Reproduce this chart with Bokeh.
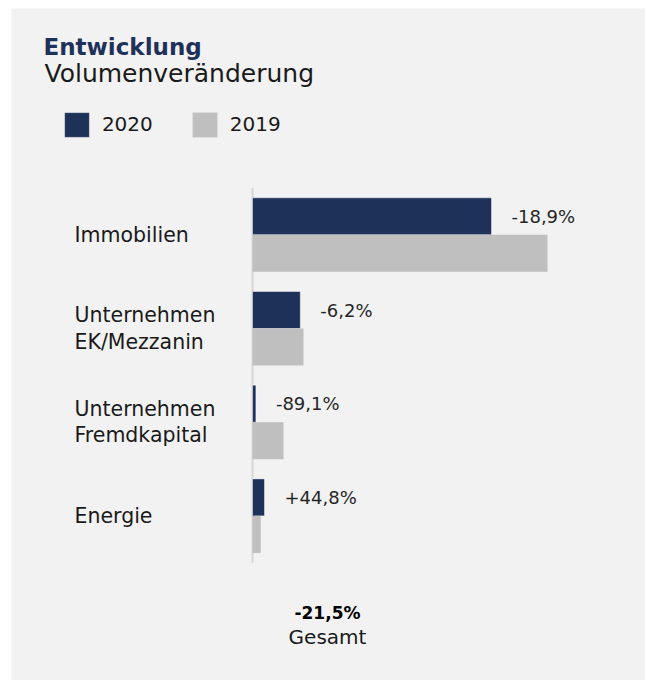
from bokeh.plotting import figure
from bokeh.models import (ColumnDataSource, Range1d, Label, Legend, LegendItem)
from bokeh.core.properties import value
from bokeh.embed import file_html
from bokeh.resources import INLINE

# ---------------- data ----------------
categories = ["Immobilien", "Unternehmen\nEK/Mezzanin", "Unternehmen\nFremdkapital", "Energie"]
vol_2019 = [295, 51, 31, 8.3]
vol_2020 = [239, 47.8, 3.4, 12.0]
change_labels = ["-18,9%", "-6,2%", "-89,1%", "+44,8%"]
series_names = ["2020", "2019"]
total_label = "-21,5%"
total_caption = "Gesamt"
title_text = "Entwicklung"
subtitle_text = "Volumenveränderung"

# ---------------- layout constants ----------------
W, H = 645, 680
LEFT, TOP = 11, 8
FW, FH = W - LEFT, H - TOP      # frame (grey panel) size
NAVY = "#1e3159"
GREY = "#bfbfbf"
BG = "#f2f2f2"
TXT = "#1a1a1a"
FONT = "DejaVu Sans"
LABEL_SHIFT = 8          # baseline correction for screen-positioned labels

axis_px = 241            # x of the value axis inside the panel
group_px = 93.7          # vertical distance between category groups
first_center_px = 226.3  # panel y of first group centre
bar_h = 37 / group_px
half = bar_h / 2

x_range = Range1d(-axis_px, FW - axis_px)
top_val = -first_center_px / group_px
bottom_val = (FH - first_center_px) / group_px
y_range = Range1d(start=bottom_val, end=top_val)

p = figure(width=W, height=H, x_range=x_range, y_range=y_range,
           output_backend="svg", toolbar_location=None,
           x_axis_type=None, y_axis_type=None,
           min_border_left=LEFT, min_border_top=TOP,
           min_border_right=0, min_border_bottom=0,
           background_fill_color=BG, border_fill_color="#ffffff",
           outline_line_color=None)
p.grid.visible = False


def sx(page_x):
    return page_x - LEFT


def sy(page_y):
    return H - page_y


def sy_text(page_y):
    return H - page_y + LABEL_SHIFT


idx = list(range(len(categories)))
src = ColumnDataSource(dict(
    cat=categories,
    idx=idx,
    y20=[i - half for i in idx],
    y19=[i + half for i in idx],
    v20=vol_2020,
    v19=vol_2019,
    lab=change_labels,
    zero=[0] * len(idx),
))

# axis line
p.segment(x0=0, y0=-0.5, x1=0, y1=len(categories) - 0.5,
          line_color="#d6d6d6", line_width=2)

r20 = p.hbar(y="y20", left="zero", right="v20", height=bar_h, source=src,
             fill_color=NAVY, line_color="#ffffff", line_alpha=0.45, line_width=1)
r19 = p.hbar(y="y19", left="zero", right="v19", height=bar_h, source=src,
             fill_color=GREY, line_color=None)

# value labels
p.text(x="v20", y="y20", text="lab", source=src, x_offset=20,
       text_baseline="middle", text_align="left",
       text_font=value(FONT), text_font_size="18px", text_color="#262626")

# category labels
p.text(x="zero", y="idx", text="cat", source=src, x_offset=-178,
       text_baseline="middle", text_align="left", text_line_height=1.1,
       text_font=value(FONT), text_font_size="20.5px", text_color=TXT)

# title / subtitle
p.add_layout(Label(x=sx(43), y=sy_text(54.5), x_units="screen", y_units="screen",
                   text=title_text, text_font=FONT, text_font_size="23px",
                   text_font_style="bold", text_color=NAVY,
                   text_baseline="alphabetic"))
p.add_layout(Label(x=sx(44), y=sy_text(81), x_units="screen", y_units="screen",
                   text=subtitle_text, text_font=FONT, text_font_size="25px",
                   text_color=TXT, text_baseline="alphabetic"))

# legend (area glyphs are inset by 10% of the glyph box)
gbox = 25 / 0.8
inset = gbox * 0.1
legend = Legend(items=[LegendItem(label=series_names[0], renderers=[r20]),
                       LegendItem(label=series_names[1], renderers=[r19])],
                location=(sx(64 - inset), sy(136.7 + inset)),
                orientation="horizontal",
                glyph_width=round(gbox), glyph_height=round(gbox),
                label_standoff=10, spacing=36, padding=0, margin=0,
                border_line_color=None, background_fill_alpha=0,
                label_text_font=FONT, label_text_font_size="20px",
                label_text_color=TXT)
p.add_layout(legend)

# total
p.add_layout(Label(x=sx(327), y=sy_text(620), x_units="screen", y_units="screen",
                   text=total_label, text_font=FONT, text_font_size="17px",
                   text_font_style="bold", text_color="#000000",
                   text_align="center", text_baseline="alphabetic"))
p.add_layout(Label(x=sx(327), y=sy_text(644), x_units="screen", y_units="screen",
                   text=total_caption, text_font=FONT, text_font_size="20px",
                   text_color=TXT, text_align="center",
                   text_baseline="alphabetic"))

open("out.html", "w").write(file_html(p, INLINE))
